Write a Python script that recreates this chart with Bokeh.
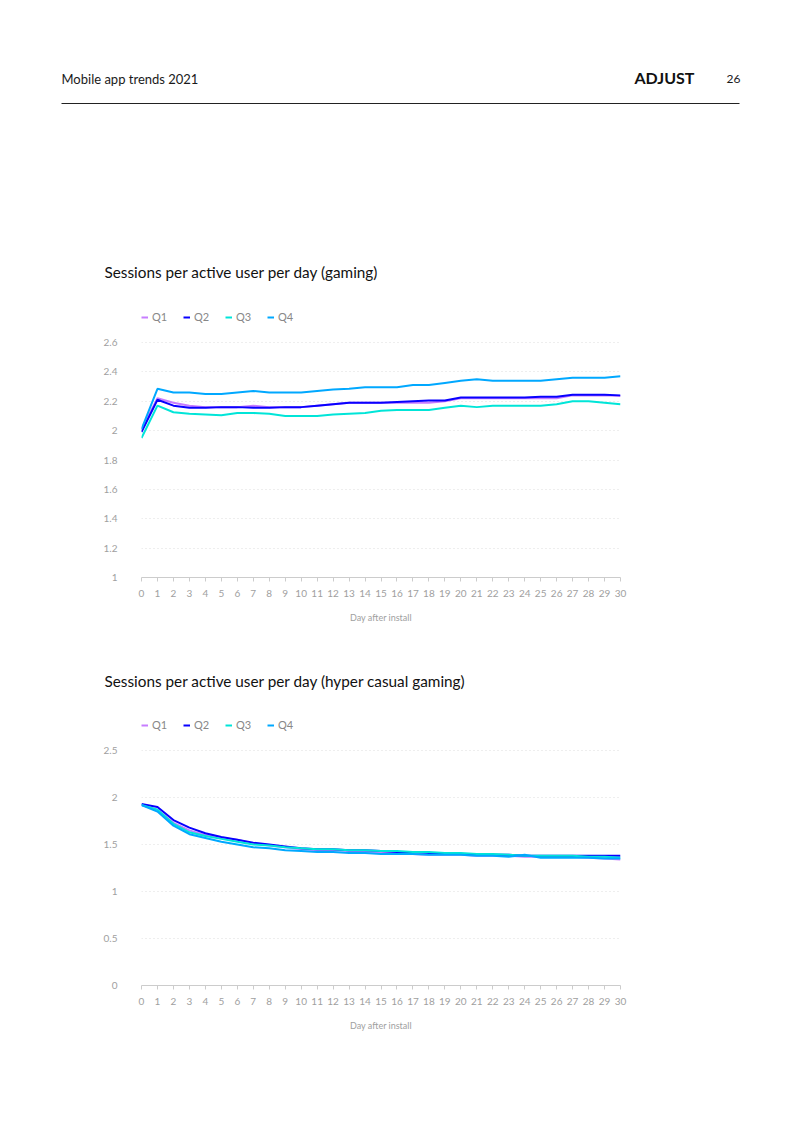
from bokeh.plotting import figure
from bokeh.models import (Range1d, FixedTicker, Legend, LegendItem)
from bokeh.layouts import column
from bokeh.embed import file_html
from bokeh.resources import INLINE
from bokeh.core.properties import value

FONT = "Lato"

days = list(range(31))
day_labels = [str(d) for d in days]

# Sessions per active user per day (gaming)
g_q1 = [2.01, 2.22, 2.19, 2.17, 2.16, 2.16, 2.16, 2.17, 2.16, 2.16, 2.16, 2.17, 2.18, 2.19, 2.19,
        2.19, 2.19, 2.19, 2.19, 2.20, 2.22, 2.22, 2.22, 2.22, 2.22, 2.22, 2.22, 2.24, 2.24, 2.24, 2.235]
g_q2 = [1.99, 2.21, 2.17, 2.155, 2.155, 2.16, 2.16, 2.155, 2.155, 2.16, 2.16, 2.17, 2.18, 2.19, 2.19,
        2.19, 2.195, 2.20, 2.205, 2.205, 2.225, 2.225, 2.225, 2.225, 2.225, 2.23, 2.23, 2.245, 2.245, 2.245, 2.24]
g_q3 = [1.95, 2.17, 2.125, 2.115, 2.11, 2.105, 2.12, 2.12, 2.115, 2.10, 2.10, 2.10, 2.11, 2.115, 2.12,
        2.135, 2.14, 2.14, 2.14, 2.155, 2.17, 2.16, 2.17, 2.17, 2.17, 2.17, 2.18, 2.20, 2.20, 2.19, 2.18]
g_q4 = [2.01, 2.285, 2.26, 2.26, 2.25, 2.25, 2.26, 2.27, 2.26, 2.26, 2.26, 2.27, 2.28, 2.285, 2.295,
        2.295, 2.295, 2.31, 2.31, 2.325, 2.34, 2.35, 2.34, 2.34, 2.34, 2.34, 2.35, 2.36, 2.36, 2.36, 2.37]
g_ticks = [1, 1.2, 1.4, 1.6, 1.8, 2, 2.2, 2.4, 2.6]
g_tick_labels = ["1", "1.2", "1.4", "1.6", "1.8", "2", "2.2", "2.4", "2.6"]

# Sessions per active user per day (hyper casual gaming)
h_q1 = [1.92, 1.87, 1.73, 1.65, 1.60, 1.57, 1.55, 1.51, 1.49, 1.47, 1.45, 1.44, 1.44, 1.43, 1.42,
        1.41, 1.41, 1.40, 1.39, 1.39, 1.39, 1.38, 1.38, 1.38, 1.37, 1.37, 1.37, 1.37, 1.36, 1.35, 1.34]
h_q2 = [1.93, 1.90, 1.76, 1.68, 1.62, 1.58, 1.55, 1.52, 1.50, 1.48, 1.46, 1.45, 1.45, 1.44, 1.44,
        1.43, 1.42, 1.42, 1.41, 1.40, 1.40, 1.40, 1.39, 1.39, 1.38, 1.38, 1.38, 1.38, 1.38, 1.38, 1.38]
h_q3 = [1.92, 1.87, 1.72, 1.63, 1.59, 1.56, 1.53, 1.50, 1.49, 1.47, 1.46, 1.45, 1.45, 1.44, 1.44,
        1.43, 1.43, 1.42, 1.42, 1.41, 1.41, 1.40, 1.40, 1.39, 1.38, 1.38, 1.38, 1.38, 1.37, 1.37, 1.36]
h_q4 = [1.92, 1.85, 1.70, 1.61, 1.57, 1.53, 1.50, 1.47, 1.46, 1.44, 1.43, 1.42, 1.42, 1.41, 1.41,
        1.40, 1.40, 1.40, 1.39, 1.39, 1.39, 1.38, 1.38, 1.37, 1.39, 1.36, 1.36, 1.36, 1.36, 1.35, 1.35]
h_ticks = [0, 0.5, 1, 1.5, 2, 2.5]
h_tick_labels = ["0", "0.5", "1", "1.5", "2", "2.5"]

series_names = ["Q1", "Q2", "Q3", "Q4"]
colors = ["#c77dff", "#0800ff", "#00e5d8", "#00a8ff"]

page_header = "Mobile app trends 2021"
brand = "ADJUST"
page_number = "26"
titles = ["Sessions per active user per day (gaming)",
          "Sessions per active user per day (hyper casual gaming)"]

GRAY = "#a0a0a0"

# layout (pixels)
LEFT, RIGHT = 141, 180
GRID_H = 235          # pixel span between lowest and highest gridline
LEGEND_UP = 254       # legend bottom above x axis


def text_panel(height):
    p = figure(width=800, height=height, x_range=Range1d(0, 800), y_range=Range1d(height, 0),
               output_backend="svg", toolbar_location=None, min_border=0,
               x_axis_location=None, y_axis_location=None)
    p.grid.visible = False
    p.outline_line_color = None
    p.frame_align = False
    return p


def add_title(p, txt, y):
    p.text(x=[104], y=[y], text=[txt], text_font=value(FONT), text_font_size="15.3px",
           text_color="#111111", text_baseline="middle")


def make_chart(series, ticks, tick_labels, height, top, bottom):
    frame_h = height - top - bottom
    y0, y1 = ticks[0], ticks[-1]
    ymax = y0 + (y1 - y0) * frame_h / GRID_H
    p = figure(width=800, height=height, x_range=Range1d(0, 30), y_range=Range1d(y0, ymax),
               output_backend="svg", toolbar_location=None,
               min_border_left=LEFT, min_border_right=RIGHT,
               min_border_top=top, min_border_bottom=bottom)
    p.outline_line_color = None
    p.xgrid.visible = False
    p.ygrid.ticker = FixedTicker(ticks=ticks)
    p.ygrid.grid_line_color = "#dcdcdc"
    p.ygrid.grid_line_dash = "1 3"

    ya = p.yaxis[0]
    ya.ticker = FixedTicker(ticks=ticks)
    ya.major_label_overrides = {t: l for t, l in zip(ticks, tick_labels)}
    ya.axis_line_color = None
    ya.major_tick_line_color = None
    ya.minor_tick_line_color = None
    ya.major_label_standoff = 18
    ya.major_label_text_font = FONT
    ya.major_label_text_font_size = "10px"
    ya.major_label_text_color = GRAY

    xa = p.xaxis[0]
    xa.ticker = FixedTicker(ticks=days)
    xa.major_label_overrides = {d: l for d, l in zip(days, day_labels)}
    xa.axis_line_color = "#cccccc"
    xa.major_tick_line_color = "#cccccc"
    xa.major_tick_in = 0
    xa.major_tick_out = 4
    xa.minor_tick_line_color = None
    xa.major_label_standoff = 8
    xa.major_label_text_font = FONT
    xa.major_label_text_font_size = "10px"
    xa.major_label_text_color = GRAY
    xa.axis_label = "Day after install"
    xa.axis_label_text_font = FONT
    xa.axis_label_text_font_size = "9px"
    xa.axis_label_text_font_style = "normal"
    xa.axis_label_text_color = GRAY
    xa.axis_label_standoff = 12

    items = []
    for name, ys, c in zip(series_names, series, colors):
        r = p.line(days, ys, line_color=c, line_width=2)
        items.append(LegendItem(label=name, renderers=[r]))

    legend = Legend(items=items, orientation="horizontal", location=(0, LEGEND_UP),
                    glyph_width=7, glyph_height=12, label_standoff=4, label_width=19, spacing=12,
                    padding=0, margin=0, border_line_color=None, background_fill_alpha=0,
                    label_text_font=FONT, label_text_font_size="11px", label_text_color="#888888")
    p.add_layout(legend, "center")
    return p


# header + first title (page y 0..290)
head = text_panel(290)
head.text(x=[61], y=[78], text=[page_header], text_font=value(FONT), text_font_size="13px",
          text_color="#1a1a1a", text_baseline="middle")
head.text(x=[634], y=[77], text=[brand], text_font=value(FONT), text_font_size="16px",
          text_font_style="bold", text_color="#111111", text_baseline="middle")
head.text(x=[726], y=[78], text=[page_number], text_font=value(FONT), text_font_size="12px",
          text_color="#1a1a1a", text_baseline="middle")
head.segment(x0=[61], y0=[103], x1=[739], y1=[103], line_color="#222222", line_width=1)
add_title(head, titles[0], 271)

c1 = make_chart([g_q1, g_q2, g_q3, g_q4], g_ticks, g_tick_labels, 370, 15, 83)

mid = text_panel(40)
add_title(mid, titles[1], 20)

c2 = make_chart([h_q1, h_q2, h_q3, h_q4], h_ticks, h_tick_labels, 431, 5, 146)

page = column(head, c1, mid, c2)
open("out.html", "w").write(file_html(page, INLINE))
